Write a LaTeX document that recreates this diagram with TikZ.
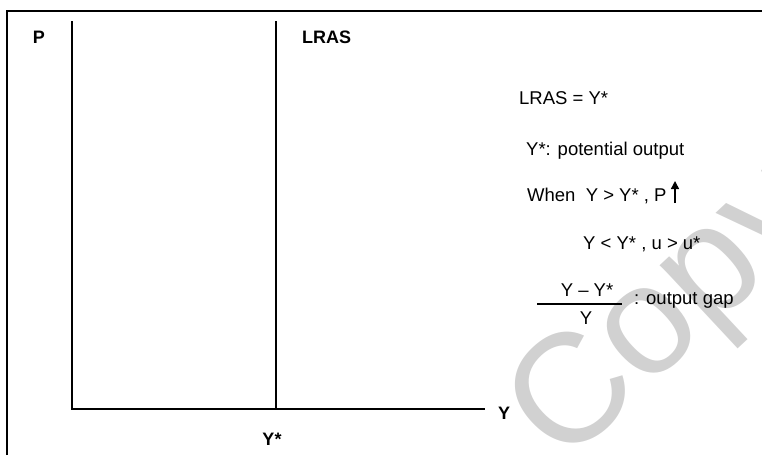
\documentclass[tikz,border=0pt]{standalone}
\usepackage{fontspec}
\setmainfont{Liberation Sans}
\usetikzlibrary{arrows.meta,positioning}

\begin{document}
\begin{tikzpicture}[x=1pt,y=-1pt,
    axis/.style={line width=1.4pt},
    lbl/.style={font=\fontsize{18}{21}\selectfont\bfseries, inner sep=0pt},
    note/.style={font=\fontsize{18.5}{22}\selectfont, inner sep=0pt, anchor=west}]
  \useasboundingbox (0,0) rectangle (762,455);
  \clip (0,0) rectangle (762,455);

  % watermark
  \node[text=black!18, rotate=43, inner sep=0pt,
        font=\fontsize{155}{155}\selectfont] (wm) at (670,316) {Copy};

  % frame
  \coordinate (fbl) at (7,455);
  \coordinate (ftl) at (7,11);
  \coordinate (ftr) at (762,11);
  \draw[line width=1.8pt] (fbl) -- (ftl) -- (ftr);

  % axes and LRAS
  \coordinate (o)    at (72,409);
  \coordinate (ptop) at (72,21);
  \coordinate (yend) at (485,409);
  \coordinate (lb)   at (276,409);
  \coordinate (lt)   at (276,21);
  \draw[axis] (ptop) -- (o) -- (yend);
  \draw[axis] (lt) -- (lb);

  \node[lbl]              (p)     at (39,37)   {P};
  \node[lbl, anchor=west] (lras)  at (302,37)  {LRAS};
  \node[lbl]              (y)     at (504,413) {Y};
  \node[lbl]              (ystar) at (272,439) {Y*};

  % notes
  \node[note] (def)  at (519,98)  {LRAS = Y*};
  \node[note] (pot)  at (526,151) {Y*: potential output};
  \node[note] (when) at (527,196) {When\ \ Y > Y* , P};
  \node[note] (less) at (583,244) {Y < Y* , u > u*};

  \coordinate (ab) at (675,203);
  \coordinate (at) at (675,181);
  \draw[line width=1.4pt, -{Triangle[length=8pt,width=8pt]}] (ab) -- (at);

  % output gap
  \node[note, anchor=center] (num) at (587,290) {Y -- Y*};
  \node[note, anchor=center] (den) at (586,318) {Y};
  \coordinate (fl) at (537,304);
  \coordinate (fr) at (622,304);
  \draw[line width=1.1pt] (fl) -- (fr);
  \node[note] (gap) at (634,300) {: output gap};
\end{tikzpicture}
\end{document}
